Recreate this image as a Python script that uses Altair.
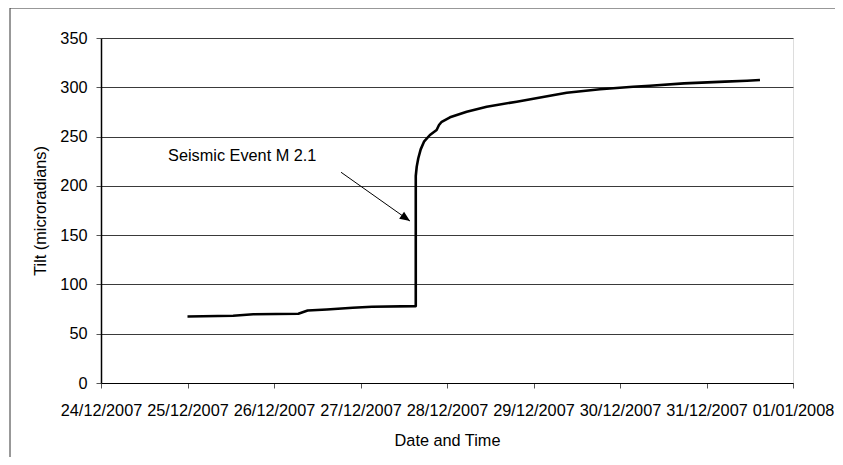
import altair as alt
import pandas as pd

# ---- data ----
times = [
    "2007-12-25T00:00", "2007-12-25T12:40", "2007-12-25T18:15", "2007-12-26T06:45",
    "2007-12-26T09:20", "2007-12-26T14:40", "2007-12-26T21:50", "2007-12-27T03:10",
    "2007-12-27T15:20", "2007-12-27T15:20", "2007-12-27T15:36", "2007-12-27T16:02",
    "2007-12-27T16:42", "2007-12-27T17:37", "2007-12-27T19:16", "2007-12-27T21:07",
    "2007-12-27T21:47", "2007-12-27T22:32", "2007-12-28T00:50", "2007-12-28T05:28",
    "2007-12-28T11:01", "2007-12-28T19:21", "2007-12-29T04:34", "2007-12-29T09:13",
    "2007-12-29T18:27", "2007-12-30T03:36", "2007-12-30T08:20", "2007-12-30T17:46",
    "2007-12-31T05:08", "2007-12-31T11:14", "2007-12-31T14:50",
]
tilt = [
    67.5, 68.3, 69.7, 70.3,
    73.5, 74.6, 76.4, 77.4,
    78.0, 210.0, 219.5, 228.0,
    237.0, 244.8, 251.6, 256.7,
    261.7, 265.0, 269.5, 275.2,
    280.3, 285.4, 291.5, 294.5,
    298.0, 300.6, 301.6, 304.0,
    305.7, 306.7, 307.4,
]

annot_text = ["Seismic Event M 2.1"]
annot_time = ["2007-12-24T18:36"]
annot_value = [230.0]

arrow_start_time = ["2007-12-26T18:36"]
arrow_start_value = [213.8]
arrow_tip_time = ["2007-12-27T13:44"]
arrow_tip_value = [164.3]

y_ticks = [0, 50, 100, 150, 200, 250, 300, 350]
x_tick_days = [(2007, 12, d) for d in range(24, 32)] + [(2008, 1, 1)]

FONT = "Liberation Sans"
FS = 16.3

df = pd.DataFrame({"t": times, "tilt": tilt, "i": list(range(len(times)))})
df_text = pd.DataFrame({"t": annot_time, "v": annot_value, "label": annot_text})
df_arrow = pd.DataFrame({
    "t": arrow_start_time, "v": arrow_start_value,
    "t2": arrow_tip_time, "v2": arrow_tip_value,
})

x_values = [alt.DateTime(year=y, month=m, date=d) for (y, m, d) in x_tick_days]
x_scale = alt.Scale(domain=[x_values[0], x_values[-1]], nice=False)
y_scale = alt.Scale(domain=[0, 350], nice=False)

x_axis = alt.Axis(
    values=x_values, format="%d/%m/%Y", title="Date and Time",
    labelFont=FONT, labelFontSize=FS, labelColor="#000", labelAngle=0,
    labelPadding=14, labelFlush=False, labelOverlap=False,
    titleFont=FONT, titleFontSize=FS, titleFontWeight="normal", titleColor="#000",
    titlePadding=14,
    grid=False, tickSize=5, tickColor="#555", domainColor="#000", domainWidth=1.2,
)
y_axis = alt.Axis(
    values=y_ticks, title="Tilt (microradians)",
    labelFont=FONT, labelFontSize=FS, labelColor="#000", labelPadding=9,
    titleFont=FONT, titleFontSize=FS, titleFontWeight="normal", titleColor="#000",
    titlePadding=11,
    grid=True, gridColor="#3a3a3a", gridWidth=1, gridOpacity=1,
    tickSize=5, tickColor="#555", domainColor="#000", domainWidth=1.5,
)

frame = alt.Chart(pd.DataFrame({"a": [0]})).mark_rect(
    fill=None, stroke="#333", strokeWidth=1
).encode(
    x=alt.value(-91), x2=alt.value(760), y=alt.value(-30), y2=alt.value(520)
)

line = alt.Chart(df).mark_line(color="#000", strokeWidth=2.6, strokeJoin="round").encode(
    x=alt.X("t:T", scale=x_scale, axis=x_axis),
    y=alt.Y("tilt:Q", scale=y_scale, axis=y_axis),
    order="i:Q",
)

text = alt.Chart(df_text).mark_text(
    align="left", baseline="middle", font=FONT, fontSize=FS, color="#000"
).encode(
    x=alt.X("t:T", scale=x_scale),
    y=alt.Y("v:Q", scale=y_scale),
    text="label:N",
)

arrow_line = alt.Chart(df_arrow).mark_rule(color="#000", strokeWidth=1).encode(
    x=alt.X("t:T", scale=x_scale), y=alt.Y("v:Q", scale=y_scale),
    x2="t2:T", y2="v2:Q",
)
arrow_head = alt.Chart(df_arrow).mark_point(
    shape="M0,0 L-1,-0.42 L-1,0.42 Z", filled=True, color="#000", opacity=1,
    size=420, angle=35, strokeWidth=0,
).encode(
    x=alt.X("t2:T", scale=x_scale), y=alt.Y("v2:Q", scale=y_scale),
)

chart = alt.layer(frame, line, text, arrow_line, arrow_head).properties(
    width=692, height=345,
    padding={"left": 93, "top": 30, "right": 42, "bottom": 74},
    autosize=alt.AutoSizeParams(type="none"),
).configure_view(
    stroke="#333", strokeWidth=1, clip=False
).configure(background="#ffffff")

chart.save("out.html", embed_options={"renderer": "svg", "actions": False})
